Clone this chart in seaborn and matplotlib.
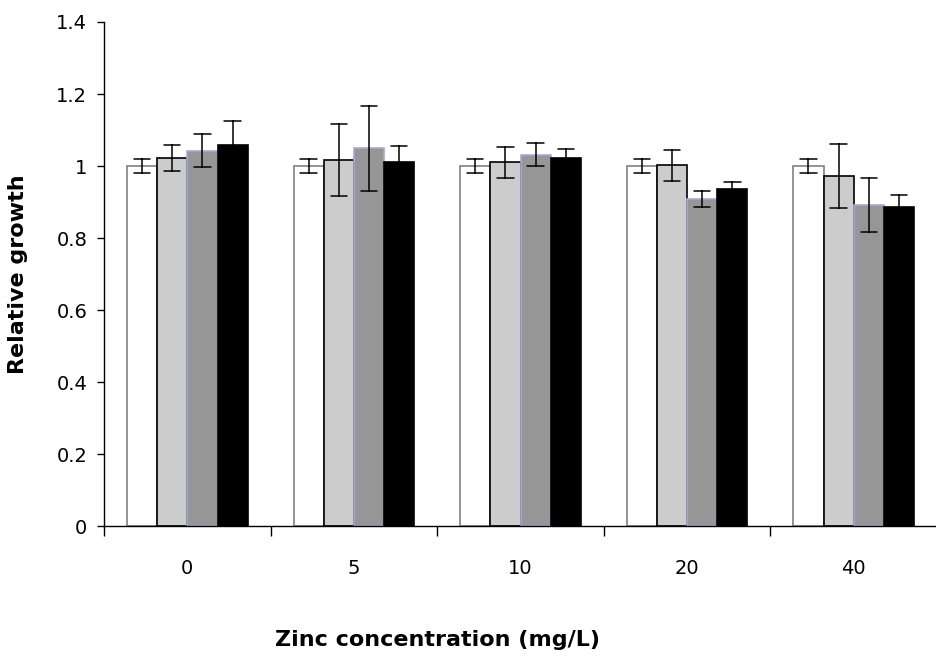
import matplotlib
matplotlib.use("Agg")
import matplotlib.pyplot as plt
import seaborn as sns
import pandas as pd
import numpy as np

# ---- data ----
concentrations = ["0", "5", "10", "20", "40"]
series_names = ["Series 1", "Series 2", "Series 3", "Series 4"]
series1 = [1.000, 1.000, 1.000, 1.000, 1.000]
series1_err = [0.020, 0.020, 0.020, 0.020, 0.020]
series2 = [1.022, 1.018, 1.010, 1.002, 0.972]
series2_err = [0.035, 0.100, 0.043, 0.043, 0.088]
series3 = [1.043, 1.049, 1.032, 0.909, 0.891]
series3_err = [0.047, 0.118, 0.033, 0.022, 0.075]
series4 = [1.059, 1.011, 1.021, 0.936, 0.887]
series4_err = [0.065, 0.044, 0.026, 0.019, 0.033]
yticks = [0, 0.2, 0.4, 0.6, 0.8, 1, 1.2, 1.4]
ytick_labels = ["0", "0.2", "0.4", "0.6", "0.8", "1", "1.2", "1.4"]

fill_colors = ["#FFFFFF", "#CCCCCC", "#969696", "#000000"]
edge_colors = ["#808080", "#000000", "#A9A9D6", "#000000"]

# build long table: two rows per cell (value - err, value + err) -> mean = value, errorbar = min..max
rows = []
for name, vals, errs in zip(series_names,
                            [series1, series2, series3, series4],
                            [series1_err, series2_err, series3_err, series4_err]):
    for c, v, e in zip(concentrations, vals, errs):
        rows.append({"conc": c, "series": name, "growth": v - e})
        rows.append({"conc": c, "series": name, "growth": v + e})
df = pd.DataFrame(rows)

sns.set_style("white")
plt.rcParams["font.family"] = ["DejaVu Sans"]
plt.rcParams["text.color"] = "black"
plt.rcParams["axes.labelcolor"] = "black"
plt.rcParams["xtick.color"] = "black"
plt.rcParams["ytick.color"] = "black"

fig = plt.figure(figsize=(9.37, 6.66), dpi=100)
ax = fig.add_axes([0.111, 0.210, 0.889, 0.757])

sns.barplot(data=df, x="conc", y="growth", hue="series",
            order=concentrations, hue_order=series_names,
            palette=fill_colors, saturation=1, width=0.725,
            estimator="mean", errorbar=lambda v: (v.min(), v.max()),
            capsize=0.39, err_kws={"color": "black", "linewidth": 1.1},
            legend=False, ax=ax)

n = len(concentrations)
for i, p in enumerate(ax.patches):
    p.set_edgecolor(edge_colors[i // n])
    p.set_linewidth(1.2)

ax.set_xlim(-0.5, 4.5)
ax.set_ylim(0, 1.4)
ax.set_yticks(yticks)
ax.set_yticklabels(ytick_labels)
ax.tick_params(axis="y", direction="out", length=5, width=1, pad=7,
               labelsize=14, left=True, color="black", labelcolor="black")

ax.set_xticks([-0.5, 0.5, 1.5, 2.5, 3.5])
ax.set_xticklabels([])
ax.set_xticks(range(n), minor=True)
ax.set_xticklabels(concentrations, minor=True)
ax.tick_params(axis="x", which="major", direction="out", length=7, width=1,
               bottom=True, color="black")
ax.tick_params(axis="x", which="minor", length=0, pad=24, labelsize=14,
               labelcolor="black")

for s in ["top", "right"]:
    ax.spines[s].set_visible(False)
for s in ["left", "bottom"]:
    ax.spines[s].set_color("black")
    ax.spines[s].set_linewidth(1)

ax.set_xlabel("Zinc concentration (mg/L)", fontsize=16, fontweight="bold",
              va="center", color="black")
ax.xaxis.set_label_coords(0.40, -0.226)
ax.set_ylabel("Relative growth", fontsize=16, fontweight="bold",
              va="center", color="black")
ax.yaxis.set_label_coords(-0.103, 0.5)

fig.savefig("out.png", dpi=100)
